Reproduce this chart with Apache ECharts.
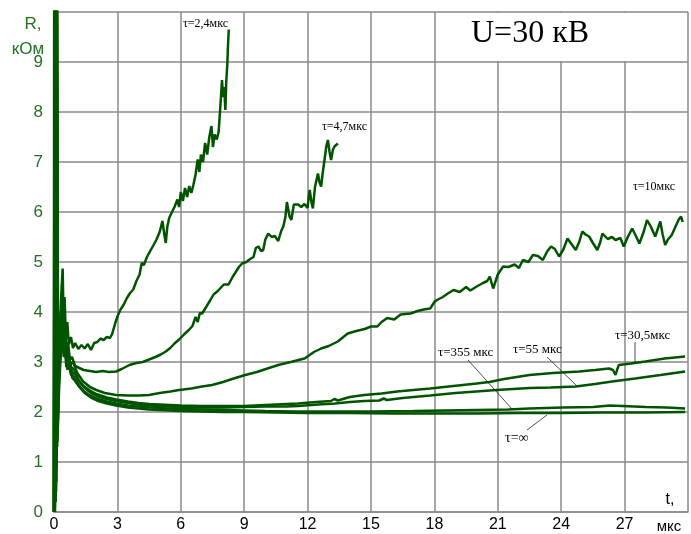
<!DOCTYPE html>
<html>
<head>
<meta charset="utf-8">
<script src="https://cdn.jsdelivr.net/npm/echarts@6/dist/echarts.min.js"></script>
<style>
html,body{margin:0;padding:0;background:#fff;}
#main{width:691px;height:534px;}
</style>
</head>
<body>
<div id="main"></div>
<script>
// R (кОм) от t (мкс), U = 30 кВ, кривые для разных tau
var xTicks = [0, 3, 6, 9, 12, 15, 18, 21, 24, 27];
var yTicks = [0, 1, 2, 3, 4, 5, 6, 7, 8, 9];

var tau2_4 = [[0,0],[0.02,10.8],[0.04,0.1],[0.06,10.8],[0.08,0.4],[0.12,10.8],[0.16,1.6],[0.22,2.9],[0.3,3.9],[0.36,4.5],[0.41,4.87],[0.46,3.7],[0.5,4.3],[0.56,3.5],[0.63,3.8],[0.7,3.35],[0.8,3.5],[0.9,3.28],[1.0,3.38],[1.15,3.26],[1.3,3.34],[1.45,3.27],[1.6,3.36],[1.75,3.24],[1.9,3.38],[2.05,3.4],[2.2,3.47],[2.35,3.44],[2.5,3.5],[2.65,3.48],[2.75,3.56],[2.9,3.78],[3.02,3.93],[3.15,4.05],[3.3,4.15],[3.45,4.28],[3.6,4.38],[3.75,4.45],[3.9,4.62],[4.05,4.75],[4.15,4.98],[4.25,4.94],[4.4,5.1],[4.55,5.22],[4.7,5.33],[4.85,5.45],[5.0,5.6],[5.13,5.82],[5.22,5.55],[5.29,5.38],[5.36,5.7],[5.45,5.88],[5.55,5.97],[5.7,6.1],[5.84,6.25],[5.92,6.1],[6.0,6.4],[6.1,6.22],[6.2,6.48],[6.3,6.3],[6.4,6.52],[6.5,6.38],[6.6,6.55],[6.7,6.75],[6.8,7.05],[6.88,6.8],[6.95,7.15],[7.05,7.0],[7.15,7.38],[7.25,7.15],[7.35,7.5],[7.45,7.72],[7.52,7.3],[7.6,7.55],[7.7,7.45],[7.79,7.6],[7.85,7.98],[7.9,8.3],[7.95,8.64],[8.0,8.3],[8.05,8.5],[8.11,8.04],[8.15,8.6],[8.2,8.95],[8.23,9.3],[8.27,9.65]];

var tau4_7 = [[0,0],[0.03,10.8],[0.05,0.2],[0.07,10.8],[0.09,0.5],[0.13,10.8],[0.18,2.0],[0.25,3.1],[0.32,3.9],[0.38,4.3],[0.44,3.5],[0.5,3.9],[0.58,3.2],[0.66,3.4],[0.75,3.05],[0.85,3.1],[1.0,2.92],[1.2,2.88],[1.4,2.84],[1.7,2.82],[2.0,2.8],[2.3,2.82],[2.6,2.8],[2.94,2.81],[3.2,2.86],[3.57,2.94],[3.9,2.98],[4.2,3.0],[4.5,3.05],[4.8,3.1],[5.05,3.15],[5.29,3.21],[5.5,3.28],[5.7,3.37],[5.92,3.45],[6.15,3.55],[6.38,3.64],[6.55,3.72],[6.7,3.9],[6.8,3.8],[6.9,3.98],[7.01,3.97],[7.2,4.1],[7.4,4.24],[7.55,4.35],[7.75,4.42],[8.03,4.55],[8.26,4.55],[8.45,4.7],[8.6,4.8],[8.75,4.9],[8.9,4.97],[9.1,5.0],[9.25,5.05],[9.44,5.1],[9.55,5.28],[9.67,5.31],[9.8,5.22],[9.9,5.24],[10.0,5.45],[10.14,5.57],[10.3,5.5],[10.45,5.52],[10.61,5.42],[10.75,5.62],[10.85,5.71],[10.95,5.9],[11.02,6.2],[11.08,6.17],[11.15,5.9],[11.23,5.84],[11.35,6.15],[11.55,6.15],[11.7,6.1],[11.85,6.16],[12.0,6.08],[12.05,6.3],[12.1,6.44],[12.18,6.2],[12.25,6.07],[12.35,6.5],[12.49,6.77],[12.56,6.6],[12.64,6.51],[12.72,6.8],[12.8,7.04],[12.88,7.3],[12.96,7.44],[13.04,7.2],[13.11,7.04],[13.2,7.25],[13.27,7.31],[13.35,7.28],[13.43,7.37]];

var tau10 = [[0,0],[0.01,10.8],[0.03,0],[0.05,10.8],[0.1,0.8],[0.14,10.8],[0.2,2.2],[0.28,3.4],[0.35,4.1],[0.41,3.6],[0.48,3.9],[0.56,3.1],[0.65,3.3],[0.75,2.95],[0.9,3.0],[1.1,2.78],[1.38,2.61],[1.7,2.5],[2.0,2.44],[2.4,2.38],[2.94,2.34],[3.5,2.33],[4.0,2.33],[4.5,2.34],[5.0,2.38],[5.5,2.41],[5.92,2.44],[6.5,2.47],[7.0,2.51],[7.48,2.54],[8.0,2.6],[8.5,2.67],[9.05,2.74],[9.6,2.8],[10.1,2.87],[10.61,2.94],[11.2,3.0],[11.86,3.07],[12.3,3.2],[12.64,3.27],[13.0,3.32],[13.43,3.41],[13.9,3.57],[14.3,3.62],[14.7,3.66],[15.0,3.71],[15.3,3.71],[15.5,3.8],[15.77,3.88],[16.1,3.85],[16.4,3.95],[16.87,3.97],[17.2,4.02],[17.5,4.05],[17.8,4.07],[18.0,4.2],[18.12,4.24],[18.4,4.3],[18.6,4.36],[18.9,4.44],[19.2,4.4],[19.5,4.5],[19.7,4.43],[20.0,4.51],[20.3,4.58],[20.5,4.62],[20.62,4.71],[20.78,4.47],[21.0,4.75],[21.25,4.91],[21.5,4.9],[21.8,4.95],[22.0,4.88],[22.19,5.04],[22.45,5.0],[22.66,5.14],[22.9,5.12],[23.13,5.04],[23.35,5.22],[23.52,5.31],[23.7,5.26],[23.9,5.11],[24.1,5.25],[24.3,5.47],[24.5,5.35],[24.69,5.24],[24.85,5.4],[25.0,5.61],[25.15,5.55],[25.32,5.51],[25.5,5.38],[25.71,5.24],[25.85,5.4],[25.95,5.57],[26.2,5.46],[26.4,5.5],[26.57,5.44],[26.8,5.48],[26.96,5.31],[27.15,5.5],[27.36,5.67],[27.5,5.55],[27.7,5.37],[27.9,5.6],[28.06,5.84],[28.25,5.7],[28.45,5.51],[28.6,5.7],[28.69,5.81],[28.8,5.55],[28.92,5.34],[29.05,5.45],[29.23,5.54],[29.4,5.7],[29.55,5.84],[29.67,5.91],[29.75,5.8]];

var tau30_5 = [[0,0],[0.04,10.8],[0.07,0.3],[0.09,10.8],[0.11,0.6],[0.13,10.8],[0.15,1.3],[0.22,2.6],[0.3,3.6],[0.37,4.0],[0.44,3.4],[0.52,3.7],[0.6,3.05],[0.7,3.15],[0.8,2.9],[0.95,2.85],[1.15,2.65],[1.4,2.52],[1.7,2.43],[2.0,2.36],[2.5,2.29],[2.94,2.25],[3.5,2.21],[4.0,2.18],[4.5,2.16],[5.0,2.15],[6.0,2.13],[7.0,2.12],[8.0,2.12],[9.0,2.12],[10.0,2.14],[11.0,2.16],[11.55,2.17],[12.4,2.2],[13.1,2.22],[13.27,2.26],[13.43,2.23],[14.0,2.3],[14.68,2.34],[15.5,2.37],[16.24,2.41],[17.0,2.44],[17.8,2.47],[18.9,2.52],[20.0,2.57],[20.6,2.6],[21.3,2.66],[22.5,2.74],[23.6,2.78],[24.85,2.81],[25.6,2.84],[26.26,2.87],[26.45,2.84],[26.57,2.74],[26.65,2.85],[26.73,2.94],[27.3,2.97],[27.98,3.01],[28.9,3.07],[29.86,3.11]];

var tau55 = [[0,0],[0.02,10.8],[0.05,0],[0.07,10.8],[0.09,0.6],[0.11,10.8],[0.13,0.9],[0.15,10.8],[0.17,1.8],[0.24,2.8],[0.31,3.5],[0.38,3.9],[0.45,3.3],[0.53,3.5],[0.62,3.0],[0.72,3.05],[0.85,2.8],[1.0,2.75],[1.2,2.6],[1.45,2.48],[1.75,2.38],[2.1,2.31],[2.5,2.26],[2.94,2.22],[3.5,2.18],[4.0,2.15],[4.5,2.13],[5.0,2.12],[6.0,2.1],[7.0,2.09],[8.0,2.09],[9.0,2.1],[10.0,2.11],[11.0,2.11],[11.55,2.12],[12.5,2.15],[13.3,2.17],[14.0,2.2],[14.68,2.22],[15.4,2.23],[15.6,2.27],[15.75,2.24],[16.5,2.28],[17.8,2.33],[19.0,2.38],[20.94,2.44],[22.5,2.48],[23.5,2.49],[24.69,2.51],[25.6,2.56],[26.41,2.61],[27.5,2.67],[28.7,2.74],[29.86,2.81]];

var tau355 = [[0,0],[0.01,10.8],[0.04,0.1],[0.06,10.8],[0.08,0.2],[0.12,10.8],[0.16,1.4],[0.23,2.5],[0.3,3.3],[0.37,3.8],[0.43,3.2],[0.5,3.4],[0.58,2.9],[0.68,3.0],[0.8,2.75],[0.95,2.7],[1.15,2.55],[1.4,2.42],[1.7,2.33],[2.0,2.27],[2.5,2.21],[2.94,2.17],[3.5,2.13],[4.0,2.11],[4.5,2.09],[5.0,2.08],[6.0,2.06],[7.0,2.05],[8.0,2.04],[9.0,2.03],[10.0,2.02],[11.5,2.01],[13.0,2.01],[15.0,2.01],[17.0,2.02],[18.5,2.03],[20.0,2.04],[21.5,2.05],[22.5,2.07],[24.07,2.09],[25.5,2.1],[26.3,2.13],[26.9,2.12],[28.0,2.1],[29.0,2.09],[29.86,2.07]];

var tauInf = [[0,0],[0.03,10.8],[0.05,0.3],[0.08,10.8],[0.1,0.4],[0.13,10.8],[0.18,1.7],[0.25,2.6],[0.33,3.2],[0.4,3.6],[0.46,3.1],[0.54,3.2],[0.63,2.85],[0.74,2.9],[0.87,2.68],[1.0,2.62],[1.2,2.5],[1.45,2.38],[1.75,2.29],[2.1,2.22],[2.5,2.17],[2.94,2.13],[3.5,2.09],[4.0,2.07],[4.5,2.05],[5.0,2.04],[6.0,2.02],[7.0,2.01],[8.0,2.0],[9.0,2.0],[10.5,1.99],[12.0,1.98],[14.0,1.98],[16.0,1.97],[18.0,1.97],[20.0,1.97],[22.0,1.98],[24.0,1.98],[26.0,1.99],[28.0,1.99],[29.86,2.0]];

var seriesNames = ['τ=2,4мкс', 'τ=4,7мкс', 'τ=10мкс', 'τ=30,5мкс', 'τ=55 мкс', 'τ=355 мкс', 'τ=∞'];
var seriesData = [tau2_4, tau4_7, tau10, tau30_5, tau55, tau355, tauInf];

var lineColor = '#005400';
var gridColor = '#8a8a8a';

var myChart = echarts.init(document.getElementById('main'));

var series = [];
for (var i = 0; i < seriesData.length; i++) {
    series.push({
        name: seriesNames[i],
        type: 'line',
        data: seriesData[i],
        showSymbol: false,
        clip: true,
        lineStyle: { color: lineColor, width: 2.5 },
        itemStyle: { color: lineColor },
        z: 5
    });
}

var txt = function (s, x, y, size, family, align, color) {
    return {
        type: 'text', x: x, y: y, z: 20,
        style: {
            text: s, fontSize: size, fontFamily: family,
            fill: color || '#000', align: align || 'left', verticalAlign: 'middle'
        }
    };
};
var leader = function (x1, y1, x2, y2) {
    return {
        type: 'line', z: 20,
        shape: { x1: x1, y1: y1, x2: x2, y2: y2 },
        style: { stroke: '#222', lineWidth: 0.8 }
    };
};

var option = {
    backgroundColor: '#fff',
    animation: false,
    grid: { left: 54, right: 1, top: 12, bottom: 22, containLabel: false },
    xAxis: {
        type: 'value',
        min: 0, max: 30, interval: 3,
        axisLine: { show: true, lineStyle: { color: gridColor, width: 1.5 } },
        axisTick: { show: false },
        splitLine: { show: true, lineStyle: { color: gridColor, width: 1.5 } },
        axisLabel: {
            color: '#000', fontSize: 16, fontFamily: 'Liberation Sans', margin: 5,
            formatter: function (v) { return xTicks.indexOf(v) >= 0 ? String(v) : ''; }
        }
    },
    yAxis: {
        type: 'value',
        min: 0, max: 10, interval: 1,
        axisLine: { show: true, lineStyle: { color: gridColor, width: 1.5 } },
        axisTick: { show: false },
        splitLine: { show: true, lineStyle: { color: gridColor, width: 1.5 } },
        axisLabel: {
            color: '#237023', fontSize: 17, fontFamily: 'Liberation Sans', margin: 11,
            formatter: function (v) { return yTicks.indexOf(v) >= 0 ? String(v) : ''; }
        }
    },
    graphic: [
        { type: 'rect', z: 10, shape: { x: 437, y: 13, width: 189, height: 48 }, style: { fill: '#fff' } },
        txt('U=30 кВ', 530, 34, 32, 'Liberation Serif', 'center'),
        txt('R,', 33, 24, 17, 'Liberation Sans', 'center', '#237023'),
        txt('кОм', 28, 49, 17, 'Liberation Sans', 'center', '#237023'),
        txt('t,', 670, 500, 16, 'Liberation Sans', 'center'),
        txt('мкс', 669, 527, 15, 'Liberation Sans', 'center'),
        txt('τ=2,4мкс', 183, 24, 12, 'Liberation Serif'),
        txt('τ=4,7мкс', 322, 127, 12, 'Liberation Serif'),
        txt('τ=10мкс', 633, 187, 12, 'Liberation Serif'),
        txt('τ=30,5мкс', 615, 336, 13, 'Liberation Serif'),
        txt('τ=55 мкс', 513, 350, 13, 'Liberation Serif'),
        txt('τ=355 мкс', 438, 353, 13, 'Liberation Serif'),
        txt('τ=∞', 505, 438, 14, 'Liberation Serif'),
        leader(635, 342, 635, 363),
        leader(547, 357, 577, 386),
        leader(468, 360, 512, 409),
        leader(547, 415, 527, 430)
    ],
    series: series
};

myChart.setOption(option);
</script>
</body>
</html>
